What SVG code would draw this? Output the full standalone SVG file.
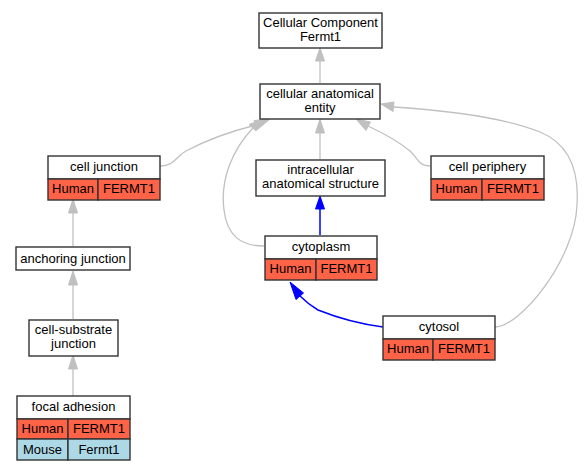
<svg xmlns="http://www.w3.org/2000/svg" width="585" height="472" viewBox="0 0 585 472">
<style>
text{font-family:"Liberation Sans",Arial,sans-serif;font-size:13px;fill:#000;text-anchor:middle}
.b{fill:#fff;stroke:#333;stroke-width:1.4}
.h{fill:#ff6347;stroke:#333;stroke-width:1.4}
.m{fill:#add8e6;stroke:#333;stroke-width:1.4}
.g{fill:none;stroke:#c0c0c0;stroke-width:1.3}
.u{fill:none;stroke:#0000ff;stroke-width:1.5}
.ga{fill:#c0c0c0;stroke:#c0c0c0}
.ua{fill:#0000ff;stroke:#0000ff}
</style>
<rect width="585" height="472" fill="#fff"/>
<g id="connectors">
<path class="g" d="M320,83 V61"/><polygon class="ga" points="320,48 315.5,61 324.5,61"/>
<path class="g" d="M320,159 V133"/><polygon class="ga" points="320,119 315.5,133 324.5,133"/>
<path class="g" d="M160,166 C175,166 176,156 186,151 C205,141 232,131 256,125"/><polygon class="ga" points="270,119 254,120.5 257.5,129.5"/>
<path class="g" d="M430,166 C418,166 418,158 410,151 C398,141 383,133 368,126"/><polygon class="ga" points="356,119 366,130.5 370.5,122"/>
<path class="g" d="M264,246 C240,246 227,235 224,210 C220,180 232,150 253,128"/><polygon class="ga" points="264,119 249,124.5 256,131"/>
<path class="g" d="M495,327 C520,327 575,260 577,205 C580,160 562,141 540,132 C500,116 440,110 394,107"/><polygon class="ga" points="381,104 394,102 393,111.5"/>
<path class="u" d="M320,235 V209"/><polygon class="ua" points="320,196 315.5,209 324.5,209"/>
<path class="u" d="M383,327 C360,324 338,318 318,310 C311,306 305,301 300,296"/><polygon class="ua" points="290,282 296,299.5 303.5,293"/>
<path class="g" d="M73,246 V213"/><polygon class="ga" points="73,199 68.5,213 77.5,213"/>
<path class="g" d="M73,319 V285"/><polygon class="ga" points="73,271 68.5,285 77.5,285"/>
<path class="g" d="M73,396 V369"/><polygon class="ga" points="73,355 68.5,369 77.5,369"/>
</g>
<g id="cc">
<rect class="b" x="259" y="13" width="123" height="35"/>
<text x="320.5" y="27">Cellular Component</text><text x="320.5" y="41">Fermt1</text>
</g>
<g id="cae">
<rect class="b" x="260" y="84" width="120" height="35"/>
<text x="320" y="98">cellular anatomical</text><text x="320" y="112">entity</text>
</g>
<g id="cell_junction">
<rect class="b" x="48" y="156" width="112" height="23"/>
<rect class="h" x="48" y="179" width="50" height="21"/>
<rect class="h" x="98" y="179" width="62" height="21"/>
<text x="104" y="171">cell junction</text>
<text x="73" y="193">Human</text><text x="129" y="193">FERMT1</text>
</g>
<g id="intracellular">
<rect class="b" x="256" y="160" width="129" height="36"/>
<text x="320.5" y="174">intracellular</text><text x="320.5" y="188">anatomical structure</text>
</g>
<g id="cell_periphery">
<rect class="b" x="431" y="156" width="113" height="23"/>
<rect class="h" x="431" y="179" width="51" height="21"/>
<rect class="h" x="482" y="179" width="62" height="21"/>
<text x="487.5" y="171">cell periphery</text>
<text x="456.5" y="193">Human</text><text x="513" y="193">FERMT1</text>
</g>
<g id="anchoring_junction">
<rect class="b" x="16" y="247" width="114" height="23"/>
<text x="73" y="263">anchoring junction</text>
</g>
<g id="cytoplasm">
<rect class="b" x="265" y="236" width="112" height="23"/>
<rect class="h" x="265" y="259" width="51" height="21"/>
<rect class="h" x="316" y="259" width="61" height="21"/>
<text x="321" y="251">cytoplasm</text>
<text x="290.5" y="273">Human</text><text x="346.5" y="273">FERMT1</text>
</g>
<g id="cell_substrate">
<rect class="b" x="29" y="320" width="89" height="36"/>
<text x="73.5" y="334">cell-substrate</text><text x="73.5" y="348">junction</text>
</g>
<g id="cytosol">
<rect class="b" x="383" y="316" width="112" height="23"/>
<rect class="h" x="383" y="339" width="50" height="21"/>
<rect class="h" x="433" y="339" width="62" height="21"/>
<text x="439" y="331">cytosol</text>
<text x="408" y="353">Human</text><text x="464" y="353">FERMT1</text>
</g>
<g id="focal_adhesion">
<rect class="b" x="17" y="396" width="113" height="23"/>
<rect class="h" x="17" y="419" width="51" height="20"/>
<rect class="h" x="68" y="419" width="62" height="20"/>
<rect class="m" x="17" y="439" width="51" height="21"/>
<rect class="m" x="68" y="439" width="62" height="21"/>
<text x="73.5" y="411">focal adhesion</text>
<text x="42.5" y="433">Human</text><text x="99" y="433">FERMT1</text>
<text x="42.5" y="454">Mouse</text><text x="99" y="454">Fermt1</text>
</g>
</svg>
